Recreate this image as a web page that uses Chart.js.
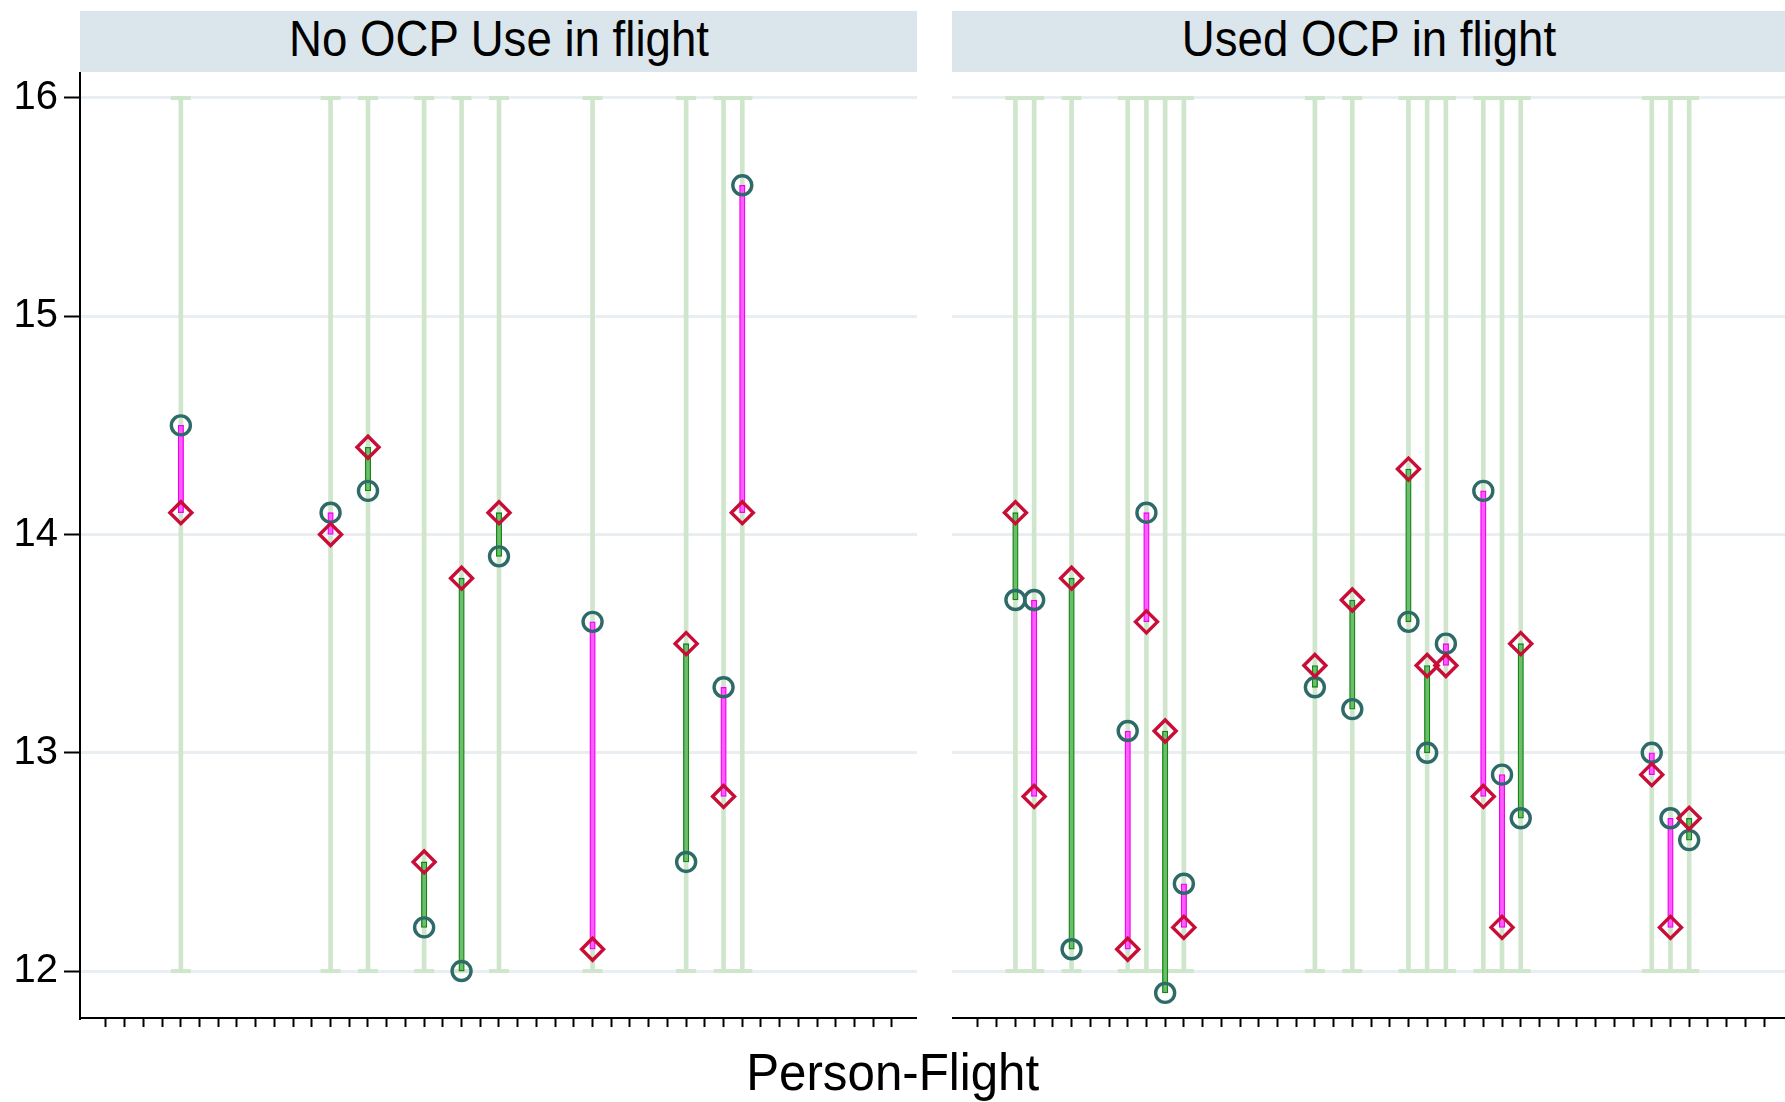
<!DOCTYPE html>
<html>
<head>
<meta charset="utf-8">
<title>Person-Flight</title>
<script src="https://cdn.jsdelivr.net/npm/chart.js@4.4.1/dist/chart.umd.min.js"></script>
<style>
    html, body { margin: 0; padding: 0; background: #fff; }
    body { width: 1785px; height: 1102px; position: relative; overflow: hidden; font-family: "Liberation Sans", Arial, sans-serif; }
    .strip { position: absolute; top: 11px; height: 61px; background: #dbe6ec; color: #000; font-size: 48px; line-height: 56px; text-align: center; }
    .strip span { display: inline-block; transform: scale(0.95, 1.04); }
    #strip-left { left: 80px; width: 837px; }
    #strip-right { left: 952px; width: 833px; }
    canvas { position: absolute; top: 43px; }
    #chart-left { left: 0; }
    #chart-right { left: 952px; }
    #x-title { position: absolute; left: 0; width: 1785px; top: 1042px; text-align: center; font-size: 50px; line-height: 60px; color: #000; }
    #x-title span { display: inline-block; transform: scale(0.985, 1.03); }
</style>
</head>
<body>
<div class="strip" id="strip-left"><span>No OCP Use in flight</span></div>
<div class="strip" id="strip-right"><span>Used OCP in flight</span></div>
<canvas id="chart-left" width="917" height="1014"></canvas>
<canvas id="chart-right" width="833" height="1014"></canvas>
<div id="x-title"><span>Person-Flight</span></div>

<script>
// person-flight ids (x) and the two measures per id
var noOcpIds      = [5, 13, 15, 18, 20, 22, 27, 32, 34, 35];
var noOcpCircle   = [14.5, 14.1, 14.2, 12.2, 12.0, 13.9, 13.6, 12.5, 13.3, 15.6];
var noOcpDiamond  = [14.1, 14.0, 14.4, 12.5, 13.8, 14.1, 12.1, 13.5, 12.8, 14.1];

var usedOcpIds     = [3, 4, 6, 9, 10, 11, 12, 19, 21, 24, 25, 26, 28, 29, 30, 37, 38, 39];
var usedOcpCircle  = [13.7, 13.7, 12.1, 13.1, 14.1, 11.9, 12.4, 13.3, 13.2, 13.6, 13.0, 13.5, 14.2, 12.9, 12.7, 13.0, 12.7, 12.6];
var usedOcpDiamond = [14.1, 12.8, 13.8, 12.1, 13.6, 13.1, 12.2, 13.4, 13.7, 14.3, 13.4, 13.4, 12.8, 12.2, 13.5, 12.9, 12.2, 12.7];

// reference range drawn behind every id
var rangeBounds = [12, 16];

var yTicks = [12, 13, 14, 15, 16];
var xTicks = [1, 2, 3, 4, 5, 6, 7, 8, 9, 10, 11, 12, 13, 14, 15, 16, 17, 18, 19, 20, 21,
              22, 23, 24, 25, 26, 27, 28, 29, 30, 31, 32, 33, 34, 35, 36, 37, 38, 39, 40, 41, 42, 43];

var FONT = "'Liberation Sans', Arial, sans-serif";
var X_MIN = -0.389;
var Y_MIN = 11.785;
var Y_MAX = 16.1145;

var RANGE_COLOR = "#cfe6cd";
var GRID_COLOR = "#e8eef1";
var CIRCLE_COLOR = "#2e6b68";
var DIAMOND_COLOR = "#c80d36";
var UP_FILL = "#ff5cff", UP_LINE = "#f000f0";      // circle above diamond
var DOWN_FILL = "#6dbd6d", DOWN_LINE = "#128612";  // diamond above circle

function buildPanel(canvasId, ids, circleVals, diamondVals, showYAxis, xMax) {
    var rangeData = ids.map(function(id) { return { x: id, y: [rangeBounds[0], rangeBounds[1]] }; });
    var capData = [];
    ids.forEach(function(id) {
        capData.push({ x: id, y: rangeBounds[0] });
        capData.push({ x: id, y: rangeBounds[1] });
    });
    var spikeData = ids.map(function(id, i) { return { x: id, y: [circleVals[i], diamondVals[i]] }; });
    var circleData = ids.map(function(id, i) { return { x: id, y: circleVals[i] }; });
    var diamondData = ids.map(function(id, i) { return { x: id, y: diamondVals[i] }; });

    function isUp(ctx) {
        var i = ctx.dataIndex;
        return circleVals[i] > diamondVals[i];
    }

    var yScale = {
        type: "linear",
        min: Y_MIN,
        max: Y_MAX,
        afterBuildTicks: function(s) { s.ticks = yTicks.map(function(v) { return { value: v }; }); },
        afterFit: function(s) { s.width = showYAxis ? 80 : 0; },
        ticks: { display: showYAxis, color: "#000", padding: 6, font: { size: 40, family: FONT } },
        grid: { color: GRID_COLOR, lineWidth: 3, drawTicks: showYAxis, tickLength: 16, tickColor: "#000", tickWidth: 2 },
        border: { display: showYAxis, color: "#000", width: 2 }
    };

    var ctx = document.getElementById(canvasId).getContext("2d");
    new Chart(ctx, {
        type: "scatter",
        data: {
            datasets: [
                {
                    type: "bar",
                    data: rangeData,
                    grouped: false,
                    barThickness: 4,
                    backgroundColor: RANGE_COLOR,
                    borderWidth: 0,
                    order: 5
                },
                {
                    data: capData,
                    pointStyle: "line",
                    pointRadius: 10,
                    borderWidth: 4,
                    borderColor: RANGE_COLOR,
                    order: 4
                },
                {
                    type: "bar",
                    data: spikeData,
                    grouped: false,
                    barThickness: 5.5,
                    borderSkipped: false,
                    borderWidth: 1.3,
                    backgroundColor: function(c) { return isUp(c) ? UP_FILL : DOWN_FILL; },
                    borderColor: function(c) { return isUp(c) ? UP_LINE : DOWN_LINE; },
                    order: 3
                },
                {
                    data: circleData,
                    pointStyle: "circle",
                    pointRadius: 9.5,
                    borderWidth: 3.4,
                    borderColor: CIRCLE_COLOR,
                    backgroundColor: "rgba(0,0,0,0)",
                    order: 2
                },
                {
                    data: diamondData,
                    pointStyle: "rectRot",
                    pointRadius: 11,
                    borderWidth: 3.4,
                    borderColor: DIAMOND_COLOR,
                    backgroundColor: "rgba(0,0,0,0)",
                    order: 1
                }
            ]
        },
        options: {
            responsive: false,
            devicePixelRatio: 1,
            animation: false,
            layout: { autoPadding: false, padding: { top: 30, bottom: 30, left: 0, right: 0 } },
            plugins: { legend: { display: false }, tooltip: { enabled: false } },
            scales: {
                x: {
                    type: "linear",
                    min: X_MIN,
                    max: xMax,
                    offset: false,
                    afterBuildTicks: function(s) { s.ticks = xTicks.map(function(v) { return { value: v }; }); },
                    afterFit: function(s) { s.height = 9; },
                    ticks: { display: false },
                    grid: { display: true, offset: false, drawOnChartArea: false, drawTicks: true, tickLength: 9, tickColor: "#000", tickWidth: 2 },
                    border: { display: true, color: "#000", width: 2 }
                },
                y: yScale
            }
        }
    });
}

document.addEventListener("DOMContentLoaded", function() {
    buildPanel("chart-left", noOcpIds, noOcpCircle, noOcpDiamond, true, 44.336);
    buildPanel("chart-right", usedOcpIds, usedOcpCircle, usedOcpDiamond, false, 44.12);
});
</script>
</body>
</html>
